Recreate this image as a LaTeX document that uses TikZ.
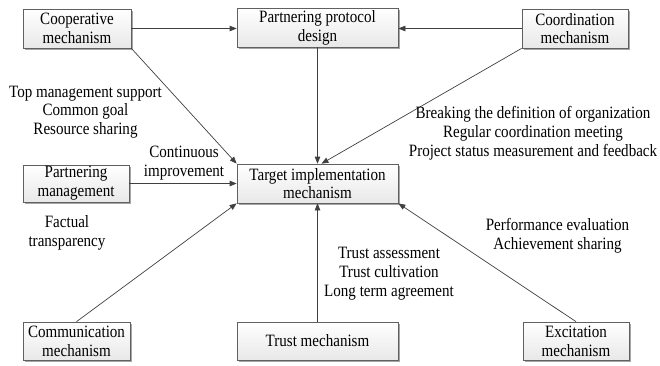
\documentclass[tikz,border=0pt]{standalone}
\usepackage{fontspec}
\setmainfont[FakeStretch=0.87]{Liberation Serif}
\usetikzlibrary{arrows.meta,shadows}

\tikzset{
  box/.style={draw=gray!75!black, line width=0.7pt, top color=white, bottom color=gray!18,
    drop shadow={shadow xshift=1.6pt, shadow yshift=-1.6pt, fill=gray!70, opacity=1},
    align=center, inner sep=0pt, font=\fontsize{17.3}{18.8}\selectfont},
  note/.style={align=center, inner sep=0pt, font=\fontsize{17.3}{18.8}\selectfont},
  link/.style={draw=black!75, line width=0.7pt, -{Triangle[length=7pt,width=5.5pt]}}
}

\begin{document}
\begin{tikzpicture}[x=1pt, y=-1pt]
\useasboundingbox (0,0) rectangle (660,365);

% mechanism boxes
\node[box, minimum width=108pt, minimum height=39pt] (coop)   at (77,28.5)    {Cooperative\\mechanism};
\node[box, minimum width=161pt, minimum height=39pt] (proto)  at (317.5,27.5) {Partnering protocol\\design};
\node[box, minimum width=106pt, minimum height=39pt] (coord)  at (575,28.5)   {Coordination\\mechanism};
\node[box, minimum width=106pt, minimum height=37pt] (pm)     at (76,183.5)   {Partnering\\management};
\node[box, minimum width=161pt, minimum height=39pt] (target) at (317.5,183.5) {Target implementation\\mechanism};
\node[box, minimum width=107pt, minimum height=38pt] (comm)   at (76.5,341)   {Communication\\mechanism};
\node[box, minimum width=161pt, minimum height=38pt] (trust)  at (317.5,341)  {Trust mechanism};
\node[box, minimum width=106pt, minimum height=38pt] (excit)  at (576,341)    {Excitation\\mechanism};

% connectors
\draw[link] (coop.east) -- (coop.east -| proto.west);
\draw[link] (coord.west) -- (coord.west -| proto.east);
\draw[link] (proto.south) -- (target.north);
\draw[link] (coop.south east) -- (target.north west);
\draw[link] (coord.south west) -- ([xshift=4pt]target.north);
\draw[link] (pm.east) -- (pm.east -| target.west);
\draw[link] (comm.north) -- (target.south west);
\draw[link] (trust.north) -- (target.south);
\draw[link] (excit.north) -- (target.south east);

% annotations
\node[note] (n1) at (85.5,112) {Top management support\\Common goal\\Resource sharing};
\node[note] (n2) at (184,163)  {Continuous\\improvement};
\node[note] (n3) at (67,233)   {Factual\\transparency};
\node[note] (n4) at (533,133)  {Breaking the definition of organization\\Regular coordination meeting\\Project status measurement and feedback};
\node[note] (n5) at (557.5,236) {Performance evaluation\\Achievement sharing};
\node[note] (n6) at (389,273.5) {Trust assessment\\Trust cultivation\\Long term agreement};
\end{tikzpicture}
\end{document}
